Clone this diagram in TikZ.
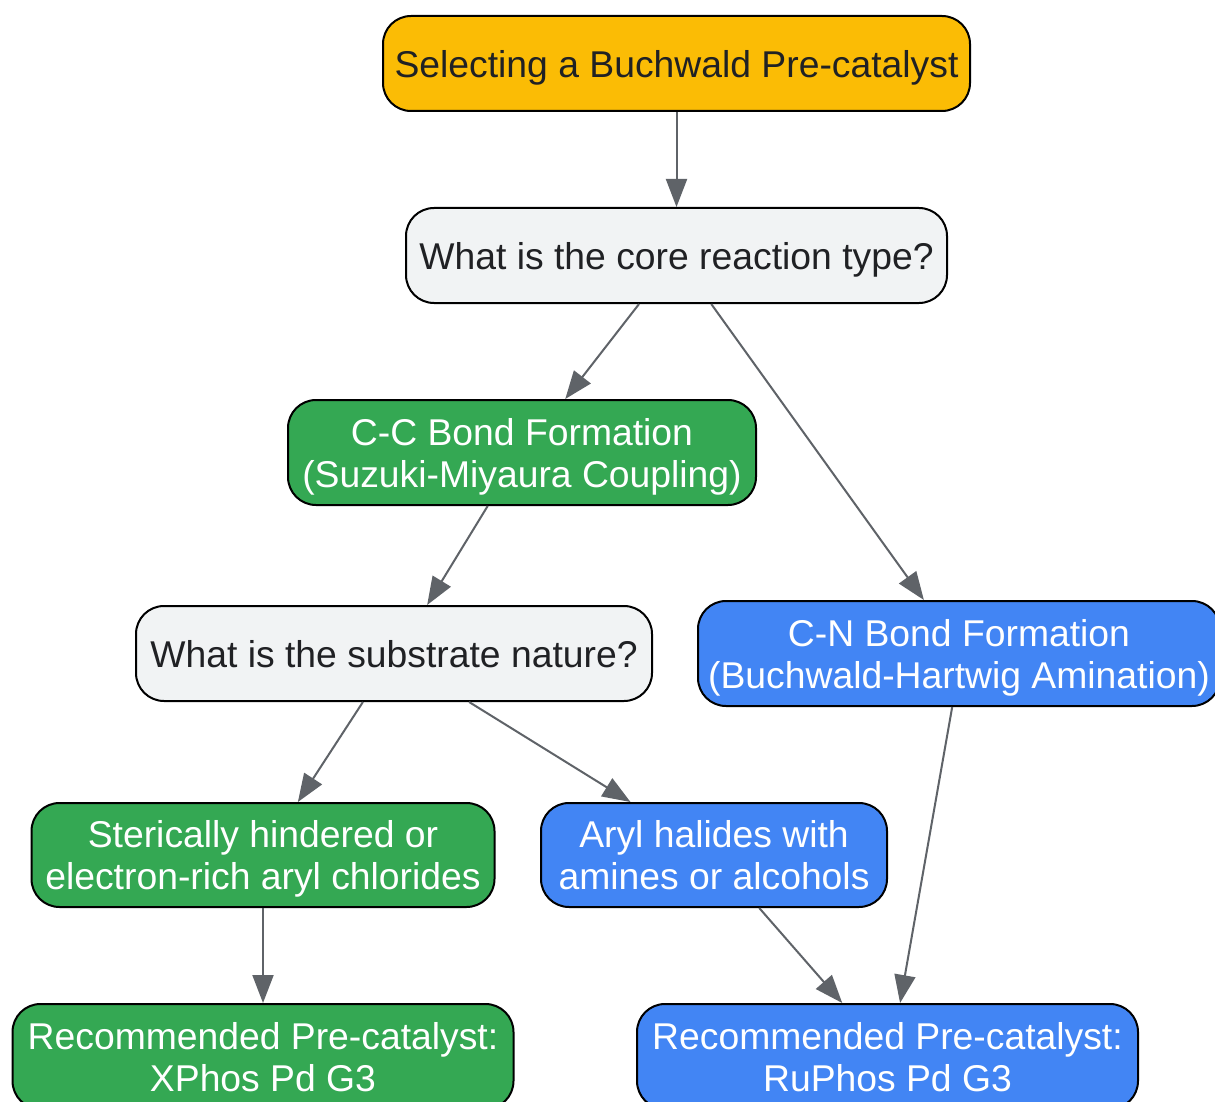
\documentclass[tikz,border=0pt]{standalone}
\usepackage{fontspec}
\setmainfont{Liberation Sans}
\usetikzlibrary{arrows.meta,calc}
\definecolor{gyellow}{HTML}{FBBC05}
\definecolor{ggray}{HTML}{F1F3F4}
\definecolor{ggreen}{HTML}{34A853}
\definecolor{gblue}{HTML}{4285F4}
\definecolor{gtext}{HTML}{202124}
\definecolor{gedge}{HTML}{5F6368}
\begin{document}
\begin{tikzpicture}[x=1pt,y=-1pt,
  box/.style={draw=black, line width=2pt, rounded corners=28pt, align=center,
    font=\fontsize{37.3}{42}\selectfont, inner sep=0pt, text depth=0pt},
  startbox/.style={box, fill=gyellow, text=gtext},
  qbox/.style={box, fill=ggray, text=gtext},
  greenbox/.style={box, fill=ggreen, text=white},
  bluebox/.style={box, fill=gblue, text=white},
  conn/.style={draw=gedge, line width=2pt, -{Triangle[length=28pt,width=21pt]}}]
\useasboundingbox (0,0) rectangle (1215,1102);
\fill[white] (0,0) rectangle (1215,1102);

\node[startbox, minimum width=587pt, minimum height=95pt] (start) at (676.5,63.5) {Selecting a Buchwald Pre-catalyst};
\node[qbox, minimum width=541pt, minimum height=95pt] (q1) at (676.5,255.5) {What is the core reaction type?};
\node[greenbox, minimum width=468pt, minimum height=105pt] (cc) at (522,452.5) {C-C Bond Formation\\(Suzuki-Miyaura Coupling)};
\node[qbox, minimum width=516pt, minimum height=95pt] (q2) at (394,653.5) {What is the substrate nature?};
\node[bluebox, minimum width=522pt, minimum height=105pt] (cn) at (959,653.5) {C-N Bond Formation\\(Buchwald-Hartwig Amination)};
\node[greenbox, minimum width=463pt, minimum height=104pt] (ster) at (263,855) {Sterically hindered or\\electron-rich aryl chlorides};
\node[bluebox, minimum width=346pt, minimum height=104pt] (aryl) at (714,855) {Aryl halides with\\amines or alcohols};
\node[greenbox, minimum width=501pt, minimum height=105pt] (xphos) at (263,1056.5) {Recommended Pre-catalyst:\\XPhos Pd G3};
\node[bluebox, minimum width=501pt, minimum height=105pt] (ruphos) at (887.5,1056.5) {Recommended Pre-catalyst:\\RuPhos Pd G3};

\draw[conn] (start.south) -- (q1.north);
\draw[conn] ($(q1.south west)!0.431!(q1.south east)$) -- ($(cc.north west)!0.592!(cc.north east)$);
\draw[conn] ($(q1.south west)!0.564!(q1.south east)$) -- ($(cn.north west)!0.433!(cn.north east)$);
\draw[conn] ($(cc.south west)!0.427!(cc.south east)$) -- ($(q2.north west)!0.564!(q2.north east)$);
\draw[conn] ($(q2.south west)!0.44!(q2.south east)$) -- ($(ster.north west)!0.575!(ster.north east)$);
\draw[conn] ($(q2.south west)!0.645!(q2.south east)$) -- ($(aryl.north west)!0.26!(aryl.north east)$);
\draw[conn] (ster.south) -- (xphos.north);
\draw[conn] ($(aryl.south west)!0.63!(aryl.south east)$) -- ($(ruphos.north west)!0.41!(ruphos.north east)$);
\draw[conn] ($(cn.south west)!0.487!(cn.south east)$) -- ($(ruphos.north west)!0.525!(ruphos.north east)$);
\end{tikzpicture}
\end{document}
